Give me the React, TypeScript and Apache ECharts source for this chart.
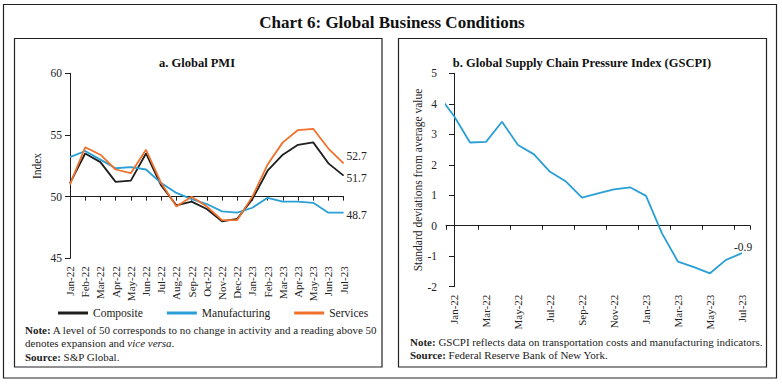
import React, { useEffect, useRef } from "react";
import * as echarts from "echarts";

const months = ["Jan-22","Feb-22","Mar-22","Apr-22","May-22","Jun-22","Jul-22","Aug-22","Sep-22","Oct-22","Nov-22","Dec-22","Jan-23","Feb-23","Mar-23","Apr-23","May-23","Jun-23","Jul-23"];
const composite = [51.1,53.5,52.8,51.2,51.3,53.5,50.9,49.3,49.6,49.0,48.0,48.2,49.8,52.1,53.4,54.2,54.4,52.7,51.7];
const manufacturing = [53.2,53.7,53.0,52.3,52.4,52.2,51.1,50.3,49.8,49.4,48.8,48.7,49.1,49.9,49.6,49.6,49.5,48.7,48.7];
const services = [51.0,54.0,53.4,52.2,51.9,53.8,51.1,49.2,50.0,49.2,48.1,48.1,50.0,52.6,54.4,55.4,55.5,53.9,52.7];

const gscpiMonths = ["Dec-21", ...months];
const gscpi = [4.3,3.6,2.73,2.75,3.41,2.65,2.34,1.77,1.45,0.92,1.06,1.19,1.26,0.98,-0.25,-1.18,-1.36,-1.56,-1.12,-0.9];

const pmiTicks = [45, 50, 55, 60];
const gscpiTicks = [-2, -1, 0, 1, 2, 3, 4, 5];

const FONT = "Liberation Serif";
const TXT = "#222";
const BLACK = "#1e1e1e";
const BLUE = "#2a9fd6";
const ORANGE = "#f0712c";

export default function App() {
  const ref = useRef<HTMLDivElement>(null);
  useEffect(() => {
    if (!ref.current) return;
    const chart = echarts.init(ref.current, undefined, { renderer: "svg" });

    const lg = { left: 70, top: 73.3, width: 273.6, height: 185 };
    const rg = { left: 446, top: 73.3, width: 304, height: 213.4 };
    const lOffset = -lg.height * (50 - pmiTicks[0]) / (pmiTicks[pmiTicks.length - 1] - pmiTicks[0]);
    const rOffset = -rg.height * (0 - gscpiTicks[0]) / (gscpiTicks[gscpiTicks.length - 1] - gscpiTicks[0]);

    const endLabel = (offset: number[]) => ({
      show: true,
      distance: 3,
      offset,
      formatter: (p: any) => {
        const v = Array.isArray(p.value) ? p.value[1] : p.value;
        return Number(v).toFixed(1);
      },
      fontFamily: FONT,
      fontSize: 11.5,
      color: TXT,
    });

    const gData = gscpi.map((v, i) => [gscpiMonths.indexOf(gscpiMonths[i]) - 1, v]);

    const axisLabelCommon = { fontFamily: FONT, fontSize: 11, color: TXT };

    chart.setOption({
      animation: false,
      textStyle: { fontFamily: FONT },
      grid: [
        { ...lg, containLabel: false },
        { ...rg, containLabel: false },
      ],
      legend: {
        left: 53,
        top: 302,
        itemWidth: 30,
        itemHeight: 3,
        itemGap: 24,
        icon: "rect",
        textStyle: { fontFamily: FONT, fontSize: 11.5, color: TXT },
        data: ["Composite", "Manufacturing", "Services"],
      },
      xAxis: [
        {
          gridIndex: 0, type: "category", data: months, boundaryGap: false,
          axisLine: { show: false }, axisTick: { show: false },
          axisLabel: { ...axisLabelCommon, rotate: 90, interval: 0, margin: 8 },
        },
        {
          gridIndex: 0, type: "category", data: months, boundaryGap: false, position: "bottom", offset: lOffset,
          axisLine: { show: true, onZero: false, lineStyle: { color: BLACK, width: 1 } },
          axisTick: { show: true, interval: 0, length: 4, lineStyle: { color: BLACK } },
          axisLabel: { show: false },
        },
        {
          gridIndex: 1, type: "category", data: months, boundaryGap: true,
          axisLine: { show: false }, axisTick: { show: false },
          axisLabel: { ...axisLabelCommon, rotate: 90, interval: 1, margin: 8 },
        },
        {
          gridIndex: 1, type: "category", data: months, boundaryGap: true, position: "bottom", offset: rOffset,
          axisLine: { show: true, onZero: false, lineStyle: { color: BLACK, width: 1 } },
          axisTick: { show: true, interval: 1, length: 4, lineStyle: { color: BLACK } },
          axisLabel: { show: false },
        },
        {
          gridIndex: 1, type: "value", min: -0.5, max: months.length - 0.5, show: false,
        },
      ],
      yAxis: [
        {
          gridIndex: 0, type: "value", min: pmiTicks[0], max: pmiTicks[pmiTicks.length - 1], interval: 5,
          axisLine: { show: true, lineStyle: { color: BLACK } },
          axisTick: { show: true, length: 5, lineStyle: { color: BLACK } },
          splitLine: { show: false },
          axisLabel: { ...axisLabelCommon, fontSize: 11.5, margin: 8 },
        },
        {
          gridIndex: 1, type: "value", min: gscpiTicks[0], max: gscpiTicks[gscpiTicks.length - 1], interval: 1,
          axisLine: { show: true, lineStyle: { color: BLACK } },
          axisTick: { show: true, length: 5, lineStyle: { color: BLACK } },
          splitLine: { show: false },
          axisLabel: { ...axisLabelCommon, fontSize: 11.5, margin: 9 },
        },
      ],
      series: [
        {
          name: "Composite", type: "line", xAxisIndex: 0, yAxisIndex: 0, showSymbol: false,
          lineStyle: { color: BLACK, width: 1.8 }, itemStyle: { color: BLACK },
          endLabel: endLabel([0, 2]),
          data: composite,
        },
        {
          name: "Manufacturing", type: "line", xAxisIndex: 0, yAxisIndex: 0, showSymbol: false,
          lineStyle: { color: BLUE, width: 1.8 }, itemStyle: { color: BLUE },
          endLabel: endLabel([0, 2]),
          data: manufacturing,
        },
        {
          name: "Services", type: "line", xAxisIndex: 0, yAxisIndex: 0, showSymbol: false,
          lineStyle: { color: ORANGE, width: 1.8 }, itemStyle: { color: ORANGE },
          endLabel: endLabel([0, -7]),
          data: services,
        },
        {
          name: "GSCPI", type: "line", xAxisIndex: 4, yAxisIndex: 1, showSymbol: false, clip: true,
          lineStyle: { color: BLUE, width: 1.8 }, itemStyle: { color: BLUE },
          endLabel: endLabel([-11, -6]),
          data: gData,
        },
      ],
      graphic: [
        { type: "rect", shape: { x: 3.5, y: 4.5, width: 773, height: 373.5 }, style: { fill: "none", stroke: "#222", lineWidth: 1.2 }, silent: true },
        { type: "rect", shape: { x: 14.5, y: 38.5, width: 367.5, height: 328.5 }, style: { fill: "none", stroke: "#222", lineWidth: 1.2 }, silent: true },
        { type: "rect", shape: { x: 398.5, y: 38.5, width: 368, height: 328.5 }, style: { fill: "none", stroke: "#222", lineWidth: 1.2 }, silent: true },
        { type: "text", x: 392, y: 22, style: { text: "Chart 6: Global Business Conditions", font: `bold 17px '${FONT}'`, fill: "#111", textAlign: "center", textVerticalAlign: "middle" } },
        { type: "text", x: 197, y: 63, style: { text: "a. Global PMI", font: `bold 12.5px '${FONT}'`, fill: "#111", textAlign: "center", textVerticalAlign: "middle" } },
        { type: "text", x: 582, y: 63, style: { text: "b. Global Supply Chain Pressure Index (GSCPI)", font: `bold 12.5px '${FONT}'`, fill: "#111", textAlign: "center", textVerticalAlign: "middle" } },
        { type: "text", x: 37, y: 166, rotation: Math.PI / 2, style: { text: "Index", font: `11.5px '${FONT}'`, fill: TXT, textAlign: "center", textVerticalAlign: "middle" } },
        { type: "text", x: 418, y: 180, rotation: Math.PI / 2, style: { text: "Standard deviations from average value", font: `11.5px '${FONT}'`, fill: TXT, textAlign: "center", textVerticalAlign: "middle" } },
        {
          type: "text", x: 25, y: 323,
          style: {
            text: "{b|Note:} A level of 50 corresponds to no change in activity and a reading above 50\ndenotes expansion and {i|vice versa}.\n{b|Source:} S&P Global.",
            font: `11px '${FONT}'`, fill: TXT, lineHeight: 13.5,
            rich: {
              b: { fontFamily: FONT, fontSize: 11, fontWeight: "bold", fill: TXT, lineHeight: 13.5 },
              i: { fontFamily: FONT, fontSize: 11, fontStyle: "italic", fill: TXT, lineHeight: 13.5 },
            },
          },
        },
        {
          type: "text", x: 410, y: 335,
          style: {
            text: "{b|Note:} GSCPI reflects data on transportation costs and manufacturing indicators.\n{b|Source:} Federal Reserve Bank of New York.",
            font: `11px '${FONT}'`, fill: TXT, lineHeight: 13.5,
            rich: {
              b: { fontFamily: FONT, fontSize: 11, fontWeight: "bold", fill: TXT, lineHeight: 13.5 },
            },
          },
        },
      ],
    });
    return () => chart.dispose();
  }, []);
  return <div ref={ref} style={{ position: "absolute", left: 0, top: 0, width: 782, height: 384, background: "#fff" }} />;
}
